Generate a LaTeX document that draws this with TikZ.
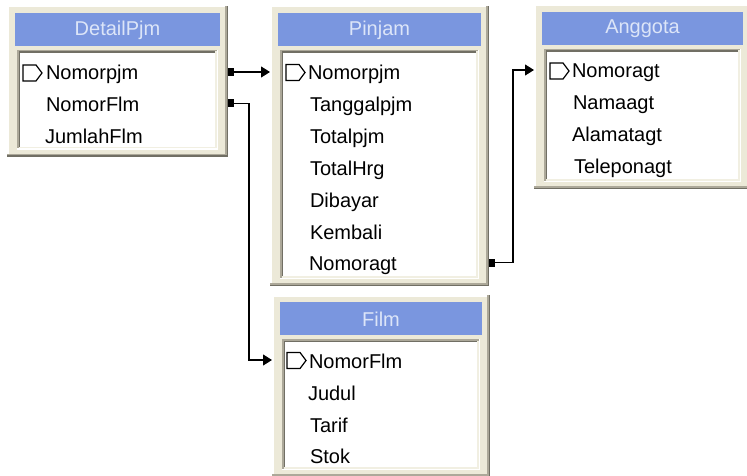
\documentclass[tikz,border=0pt]{standalone}
\usepackage{fontspec}
\setmainfont{Liberation Sans}
\usetikzlibrary{arrows.meta}
\definecolor{face}{HTML}{ECE9D8}
\definecolor{shadowA}{HTML}{ACA899}
\definecolor{shadowB}{HTML}{716F64}
\definecolor{lightA}{HTML}{F1EFE2}
\definecolor{capblue}{HTML}{7A96DF}
\definecolor{captext}{HTML}{DCE5F8}
\tikzset{
  fld/.style={anchor=west,inner sep=0pt,outer sep=0pt,text height=16pt,text depth=0pt,font=\fontsize{20}{24}\selectfont},
  ttl/.style={inner sep=0pt,text=captext,font=\fontsize{20}{24}\selectfont},
  keyicon/.style={line width=1.2pt,line join=miter},
  conn/.style={line width=1.1pt,{Square[length=6pt,width=8pt]}-{Triangle[length=9pt,width=11pt]}},
}
% name, x1, y1, x2, y2, title
\newcommand\erframe[6]{%
  \fill[shadowB] (#2,#3) rectangle (#4,#5);
  \fill[shadowA] (#2,#3) rectangle (#4-1.5,#5-1.5);
  \fill[white] (#2,#3) rectangle (#4-3,#5-3);
  \fill[face] (#2+1.5,#3+1.5) rectangle (#4-3,#5-3);
  \fill[capblue] (#2+8,#3+7) rectangle (#4-8,#3+40);
  \fill[white] (#2+10,#3+44) rectangle (#4-10,#5-7);
  \fill[shadowA] (#2+10,#3+44) rectangle (#4-11.5,#5-8.5);
  \fill[lightA] (#2+11.5,#3+45.5) rectangle (#4-11.5,#5-8.5);
  \fill[shadowB] (#2+11.5,#3+45.5) rectangle (#4-13,#5-10);
  \fill[white] (#2+13,#3+47) rectangle (#4-13,#5-10);
  \node[inner sep=0pt,outer sep=0pt,anchor=north west,minimum width={#4-#2},minimum height={#5-#3}] (#1) at (#2,#3) {};
  \node[ttl] (#1-title) at ({(#2+#4)/2},{#3+24}) {#6};
}
\newcommand\keymark[2]{%
  \draw[keyicon] (#1,#2-8) -- (#1+13,#2-8) -- (#1+19,#2) -- (#1+13,#2+8) -- (#1,#2+8) -- cycle;
}
\begin{document}
\begin{tikzpicture}[x=1pt,y=-1pt]
\useasboundingbox[fill=white] (0,0) rectangle (747,476);

% DetailPjm
\erframe{dp}{7}{6}{228}{157}{DetailPjm}
\keymark{23}{73}
\node[fld] (dp1) at (46,72) {Nomorpjm};
\node[fld] (dp2) at (46,103.5) {NomorFlm};
\node[fld] (dp3) at (45,135) {JumlahFlm};

% Pinjam
\erframe{pj}{270}{6}{489}{286}{Pinjam}
\keymark{286}{72.5}
\node[fld] (pj1) at (308,72) {Nomorpjm};
\node[fld] (pj2) at (310,103.8) {Tanggalpjm};
\node[fld] (pj3) at (310,135.6) {Totalpjm};
\node[fld] (pj4) at (310,167.4) {TotalHrg};
\node[fld] (pj5) at (310,199.2) {Dibayar};
\node[fld] (pj6) at (310,231) {Kembali};
\node[fld] (pj7) at (309,262.8) {Nomoragt};

% Anggota
\erframe{ag}{534}{5}{751}{189}{Anggota}
\keymark{550}{71}
\node[fld] (ag1) at (572,70) {Nomoragt};
\node[fld] (ag2) at (573,102) {Namaagt};
\node[fld] (ag3) at (572,134) {Alamatagt};
\node[fld] (ag4) at (574,165.5) {Teleponagt};

% Film
\erframe{fl}{272}{295}{490}{477}{Film}
\keymark{287}{360.5}
\node[fld] (fl1) at (309,360) {NomorFlm};
\node[fld] (fl2) at (308,392) {Judul};
\node[fld] (fl3) at (310,424) {Tarif};
\node[fld] (fl4) at (310,455.5) {Stok};

% connectors
\draw[conn] (dp.east |- dp1) -- (pj.west |- dp1);
\draw[conn] (dp.east |- dp2) -- ++(21,0) |- (fl.west |- fl1);
\draw[conn] (pj.east |- pj7) -- ++(24,0) |- (ag.west |- ag1);
\end{tikzpicture}
\end{document}
